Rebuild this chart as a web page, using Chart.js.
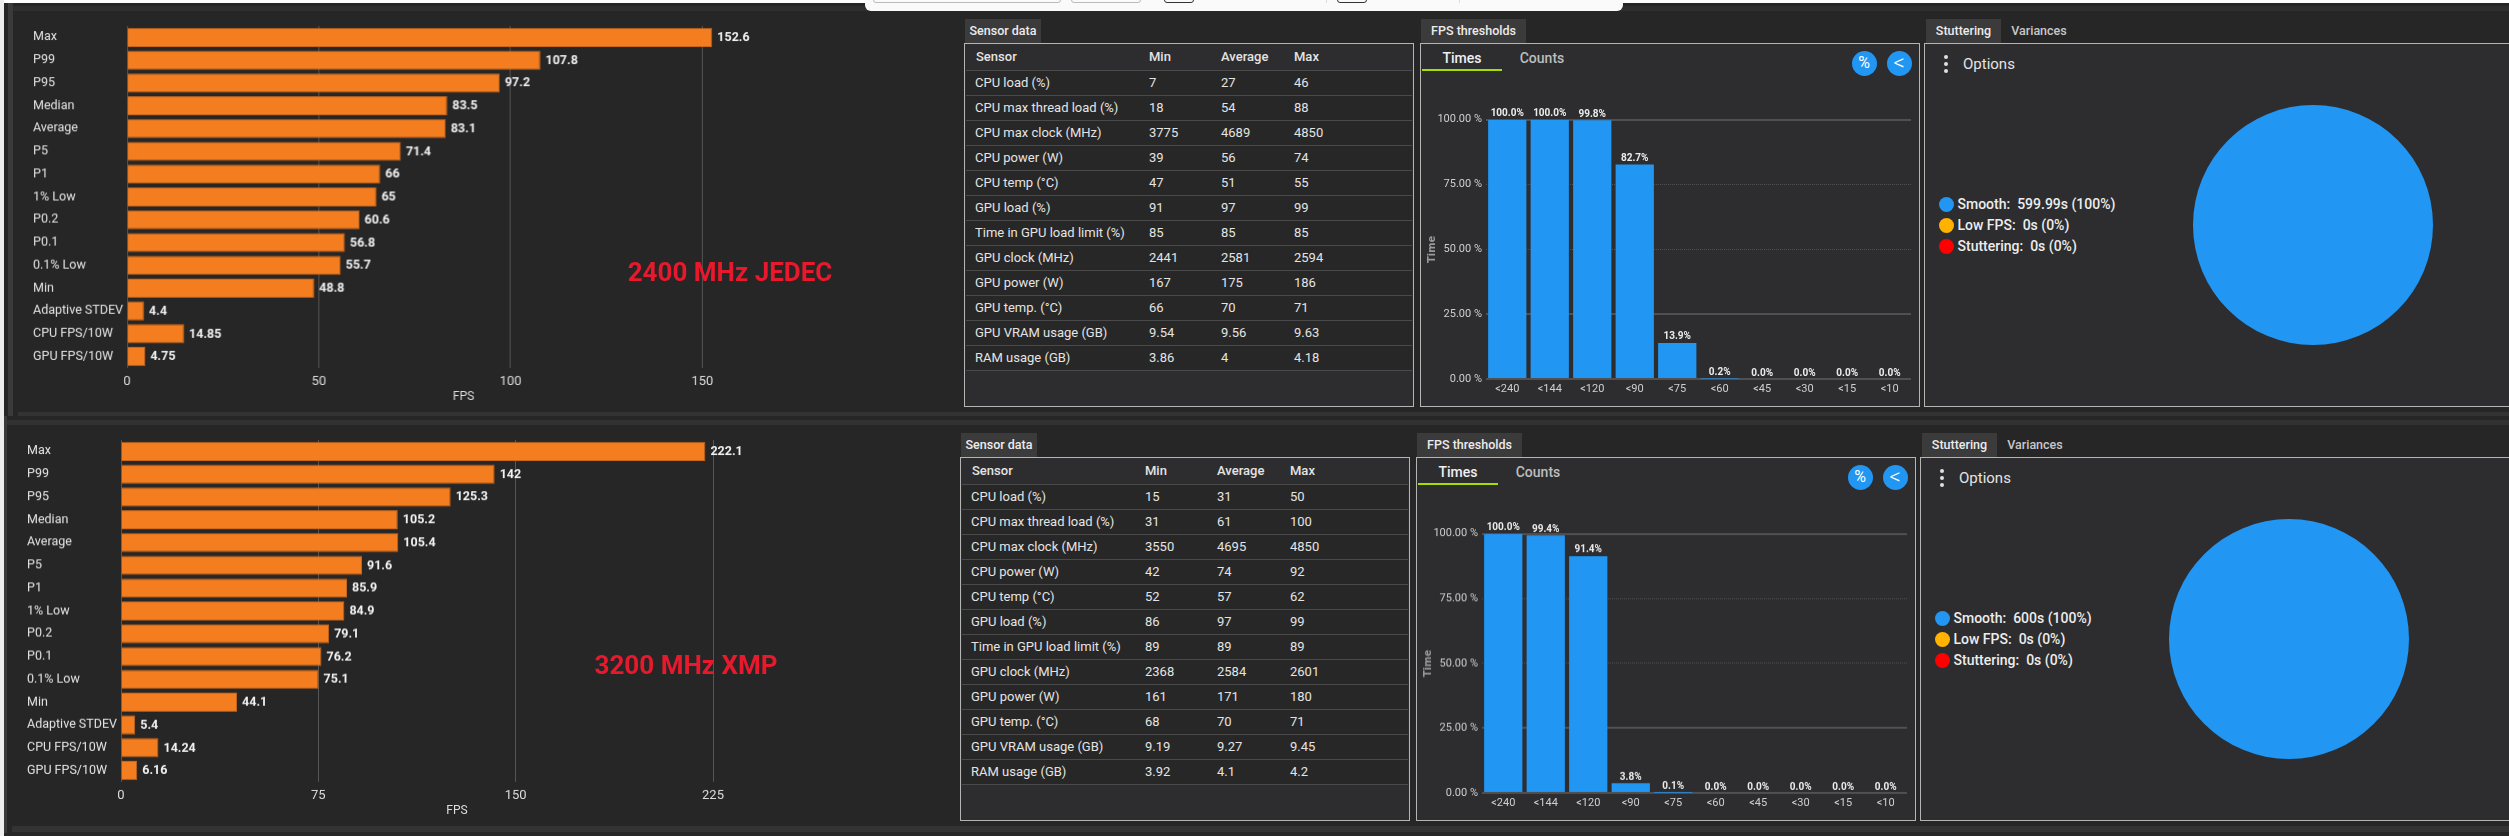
<!DOCTYPE html>
<html>
<head>
<meta charset="utf-8">
<script src="https://cdn.jsdelivr.net/npm/chart.js@4"></script>
<style>
html, body { margin: 0; padding: 0; background: #262626; }
#page { position: relative; width: 2509px; height: 836px; overflow: hidden; background: #262626; font-family: Roboto, sans-serif; color: #e4e4e4; }
.abs { position: absolute; box-sizing: border-box; white-space: nowrap; }
canvas { position: absolute; display: block; }
.tab { font-size: 12.5px; font-weight: 500; text-align: center; line-height: 24px; }
.panel { border: 1px solid #b4b4b4; background: #2d2d2f; }
td, th { padding: 0; font-weight: 400; text-align: left; border-bottom: 1px solid #4a4a4a; }
th { font-weight: 500; }
table { border-collapse: collapse; table-layout: fixed; position: absolute; font-size: 13px; color: #e4e4e4; }
</style>
</head>
<body>
<div id="page"></div>
<script>
var fpsLabels = ['Max', 'P99', 'P95', 'Median', 'Average', 'P5', 'P1', '1% Low', 'P0.2', 'P0.1', '0.1% Low', 'Min', 'Adaptive STDEV', 'CPU FPS/10W', 'GPU FPS/10W'];
var fpsJedec = [152.6, 107.8, 97.2, 83.5, 83.1, 71.4, 66, 65, 60.6, 56.8, 55.7, 48.8, 4.4, 14.85, 4.75];
var fpsXmp = [222.1, 142, 125.3, 105.2, 105.4, 91.6, 85.9, 84.9, 79.1, 76.2, 75.1, 44.1, 5.4, 14.24, 6.16];

var sensorLabels = ['CPU load (%)', 'CPU max thread load (%)', 'CPU max clock (MHz)', 'CPU power (W)', 'CPU temp (°C)', 'GPU load (%)', 'Time in GPU load limit (%)', 'GPU clock (MHz)', 'GPU power (W)', 'GPU temp. (°C)', 'GPU VRAM usage (GB)', 'RAM usage (GB)'];
var sensorMinJedec = ['7', '18', '3775', '39', '47', '91', '85', '2441', '167', '66', '9.54', '3.86'];
var sensorAvgJedec = ['27', '54', '4689', '56', '51', '97', '85', '2581', '175', '70', '9.56', '4'];
var sensorMaxJedec = ['46', '88', '4850', '74', '55', '99', '85', '2594', '186', '71', '9.63', '4.18'];
var sensorMinXmp = ['15', '31', '3550', '42', '52', '86', '89', '2368', '161', '68', '9.19', '3.92'];
var sensorAvgXmp = ['31', '61', '4695', '74', '57', '97', '89', '2584', '171', '70', '9.27', '4.1'];
var sensorMaxXmp = ['50', '100', '4850', '92', '62', '99', '89', '2601', '180', '71', '9.45', '4.2'];

var thresholdLabels = ['<240', '<144', '<120', '<90', '<75', '<60', '<45', '<30', '<15', '<10'];
var timesJedec = [100, 100, 99.8, 82.7, 13.9, 0.2, 0, 0, 0, 0];
var timesXmp = [100, 99.4, 91.4, 3.8, 0.1, 0, 0, 0, 0, 0];

var stutterLabels = ['Smooth', 'Low FPS', 'Stuttering'];
var stutterColors = ['#2196f3', '#ffb300', '#ff0000'];
var stutterJedec = [599.99, 0, 0];
var stutterXmp = [600, 0, 0];
var stutterPctJedec = [100, 0, 0];
var stutterPctXmp = [100, 0, 0];

var page = document.getElementById('page');

function box(x, y, w, h, css, text) {
    var d = document.createElement('div');
    d.className = 'abs';
    d.style.cssText = 'left:' + x + 'px;top:' + y + 'px;width:' + w + 'px;height:' + h + 'px;' + (css || '');
    if (text) d.textContent = text;
    page.appendChild(d);
    return d;
}

function addCanvas(x, y, w, h) {
    var c = document.createElement('canvas');
    c.width = w;
    c.height = h;
    c.style.left = x + 'px';
    c.style.top = y + 'px';
    c.style.width = w + 'px';
    c.style.height = h + 'px';
    page.appendChild(c);
    return c;
}

// axis labels must not push the plot area around
function noPadding(s) {
    s.paddingTop = 0;
    s.paddingBottom = 0;
    s.paddingLeft = 0;
    s.paddingRight = 0;
}

// value next to the end of each orange bar
var barEndLabels = {
    id: 'barEndLabels',
    afterDatasetsDraw: function(chart) {
        var ctx = chart.ctx;
        var values = chart.data.datasets[0].data;
        ctx.save();
        ctx.font = 'bold 12.5px Roboto';
        ctx.fillStyle = '#f2f2f2';
        ctx.textBaseline = 'middle';
        chart.getDatasetMeta(0).data.forEach(function(bar, i) {
            ctx.fillText(String(values[i]), bar.x + 5, bar.y + 0.5);
        });
        ctx.restore();
    }
};

// percentage above the blue bars
var barTopLabels = {
    id: 'barTopLabels',
    afterDatasetsDraw: function(chart) {
        var ctx = chart.ctx;
        var values = chart.data.datasets[0].data;
        ctx.save();
        ctx.font = 'bold 10px Roboto';
        ctx.fillStyle = '#ececec';
        ctx.textAlign = 'center';
        ctx.textBaseline = 'bottom';
        chart.getDatasetMeta(0).data.forEach(function(bar, i) {
            ctx.fillText(values[i].toFixed(1) + '%', bar.x, bar.y - 1);
        });
        ctx.restore();
    }
};

function fpsChart(x, y, plotLeft, plotRight, plotH, values, axisMax, step) {
    var footH = 36;
    new Chart(addCanvas(x, y, plotRight - x, plotH + footH), {
        type: 'bar',
        data: {
            labels: fpsLabels,
            datasets: [{
                data: values,
                backgroundColor: '#f47d20',
                borderColor: '#c4661c',
                borderWidth: 1,
                barPercentage: 0.84,
                categoryPercentage: 1
            }]
        },
        options: {
            indexAxis: 'y',
            responsive: false,
            animation: false,
            layout: { padding: 0 },
            plugins: { legend: { display: false }, tooltip: { enabled: false } },
            scales: {
                x: {
                    min: 0,
                    max: axisMax,
                    afterBuildTicks: function(s) {
                        s.ticks = s.ticks.filter(function(t) { return t.value % step === 0; });
                    },
                    afterFit: function(s) { s.height = footH; noPadding(s); },
                    ticks: { stepSize: step, color: '#dcdcdc', padding: 6, font: { family: 'Roboto', size: 13 } },
                    grid: { color: '#555555', drawTicks: false },
                    border: { display: false },
                    title: { display: true, text: 'FPS', color: '#dcdcdc', padding: 0, font: { family: 'Roboto', size: 12 } }
                },
                y: {
                    afterFit: function(s) { s.width = plotLeft - x; noPadding(s); },
                    ticks: { crossAlign: 'far', autoSkip: false, color: '#e4e4e4', padding: 0, font: { family: 'Roboto', size: 12.5 } },
                    grid: { display: false },
                    border: { display: false }
                }
            }
        },
        plugins: [barEndLabels]
    });
}

function thresholdChart(x, y, plotLeft, plotRight, top, bottom, values) {
    var padTop = top - y;
    var footH = 20;
    new Chart(addCanvas(x, y, plotRight - x, bottom - y + footH), {
        type: 'bar',
        data: {
            labels: thresholdLabels,
            datasets: [{
                data: values,
                backgroundColor: '#2196f3',
                barPercentage: 0.9,
                categoryPercentage: 1
            }]
        },
        options: {
            responsive: false,
            animation: false,
            layout: { padding: { top: padTop } },
            plugins: { legend: { display: false }, tooltip: { enabled: false } },
            scales: {
                x: {
                    afterFit: function(s) { s.height = footH; noPadding(s); },
                    ticks: { autoSkip: false, maxRotation: 0, color: '#cfcfcf', padding: 4, font: { family: 'Roboto', size: 11 } },
                    grid: { display: false, drawTicks: false },
                    border: { display: false }
                },
                y: {
                    min: 0,
                    max: 100,
                    afterFit: function(s) { s.width = plotLeft - x; noPadding(s); },
                    ticks: {
                        stepSize: 25,
                        color: '#cfcfcf',
                        padding: 4,
                        font: { family: 'Roboto', size: 11 },
                        callback: function(v) { return v.toFixed(2) + ' %'; }
                    },
                    grid: {
                        drawTicks: false,
                        color: '#505050',
                        lineWidth: function(c) { return (c.tick.value === 75 || c.tick.value === 50) ? 1 : 2; }
                    },
                    border: {
                        display: false,
                        dash: function(c) { return (c.tick.value === 75 || c.tick.value === 50) ? [1, 1] : []; }
                    },
                    title: { display: true, text: 'Time', color: '#999999', padding: 0, font: { family: 'DejaVu Sans', size: 10, weight: 'bold' } }
                }
            }
        },
        plugins: [barTopLabels]
    });
}

function stutterChart(cx, cy, values) {
    new Chart(addCanvas(cx - 120, cy - 120, 240, 240), {
        type: 'pie',
        data: {
            labels: stutterLabels,
            datasets: [{ data: values, backgroundColor: stutterColors, borderWidth: 0 }]
        },
        options: {
            responsive: false,
            animation: false,
            layout: { padding: 0 },
            plugins: { legend: { display: false }, tooltip: { enabled: false } }
        }
    });
}

function sensorTable(x, y, w, h, mins, avgs, maxs) {
    box(x, y, w, h, '', '').className = 'abs panel';
    box(x + 2, y + 27, w - 4, 300, 'background:#272727;');
    var cols = [183, 72, 73, 118];
    var html = '<colgroup>' + cols.map(function(c) { return '<col style="width:' + c + 'px">'; }).join('') + '</colgroup>';
    html += '<tr style="height:27px"><th style="padding-left:10px">Sensor</th><th>Min</th><th>Average</th><th>Max</th></tr>';
    sensorLabels.forEach(function(name, i) {
        html += '<tr style="height:25px"><td style="padding-left:9px">' + name + '</td><td>' + mins[i] + '</td><td>' + avgs[i] + '</td><td>' + maxs[i] + '</td></tr>';
    });
    var t = document.createElement('table');
    t.style.left = (x + 2) + 'px';
    t.style.top = y + 'px';
    t.style.width = (w - 4) + 'px';
    t.innerHTML = html;
    page.appendChild(t);
}

function fpsTabs(x, y, boxW) {
    box(x + 2, y + 26, 80, 2, 'background:#a6dd00;');
    box(x + 2, y + 4, 80, 22, 'text-align:center;font-size:14px;font-weight:500;color:#f0f0f0;line-height:22px;', 'Times');
    box(x + 82, y + 4, 80, 22, 'text-align:center;font-size:14px;font-weight:500;color:#bdbdbd;line-height:22px;', 'Counts');
    var round = 'border-radius:50%;background:#2196f3;color:#fff;text-align:center;line-height:24px;';
    box(x + boxW - 68.5, y + 8, 25, 25, round + 'font-size:16px;', '%');
    box(x + boxW - 33.5, y + 8, 25, 25, round + 'font-size:22px;font-weight:300;', '<');
}

function stutterPanel(x, y, pieX, pieY, values, pcts) {
    box(x, y, 2509 - x + 5, 364, '').className = 'abs panel';
    var dots = [7, 14, 21];
    dots.forEach(function(d) {
        box(x + 20, y + d + 5, 4, 4, 'border-radius:50%;background:#e0e0e0;');
    });
    box(x + 39, y + 9, 80, 24, 'font-size:15px;line-height:24px;color:#e4e4e4;', 'Options');
    stutterLabels.forEach(function(name, i) {
        var ly = y + 161 + i * 21.2;
        box(x + 14.5, ly - 7.5, 15, 15, 'border-radius:50%;background:' + stutterColors[i] + ';');
        box(x + 33.5, ly - 10, 200, 20, 'font-size:14px;font-weight:500;line-height:20px;color:#ececec;white-space:pre;', name + ':  ' + values[i] + 's (' + pcts[i] + '%)');
    });
    stutterChart(pieX, pieY, values);
}

function tab(x, y, w, text, active) {
    box(x, y, w, 24, 'background:' + (active ? '#3b3b3b' : 'transparent') + ';color:' + (active ? '#ececec' : '#c8c8c8') + ';', text).classList.add('tab');
}

// chrome behind the two rows
box(0, 0, 2509, 3, 'background:#ffffff;');
box(0, 0, 4, 836, 'background:#eeeeee;');
box(8, 3, 5, 413, 'background:#3a3a3a;');
box(13, 6, 2496, 5, 'background:#2f2f2f;');
box(18, 412, 2491, 4, 'background:#333333;');
box(4, 416, 3, 417, 'background:#3a3a3a;');
box(7, 420, 2502, 5, 'background:#313131;');
box(12, 826, 2497, 6, 'background:#333333;');

// window sitting over the top edge
box(865, 0, 758, 11, 'background:#fafafa;border-radius:0 0 6px 6px;');
box(873, -3, 188, 5.5, 'background:#fafafa;border:1px solid #bbbbbb;border-radius:3px;');
box(1071, -3, 70, 5.5, 'background:#fafafa;border:1px solid #bbbbbb;border-radius:3px;');
box(1164, -3, 30, 5.5, 'background:#fafafa;border:1px solid #333333;border-radius:3px;');
box(1337, -3, 30, 5.5, 'background:#fafafa;border:1px solid #333333;border-radius:3px;');
box(1326, 0, 1, 3, 'background:#dddddd;');
box(1459, 0, 1, 3, 'background:#dddddd;');

// 2400 MHz row
fpsChart(33, 26, 127, 799.7, 341.5, fpsJedec, 175.5, 50);
box(620, 254, 220, 36, 'font:bold 26px Roboto;color:#e8192c;text-align:center;line-height:36px;', '2400 MHz JEDEC');
tab(965, 19, 76, 'Sensor data', true);
sensorTable(964, 43, 450, 364, sensorMinJedec, sensorAvgJedec, sensorMaxJedec);
tab(1421, 19, 105, 'FPS thresholds', true);
box(1420, 43, 500, 364, '').className = 'abs panel';
fpsTabs(1420, 43, 500);
thresholdChart(1426, 100, 1486, 1911, 119.7, 379, timesJedec);
tab(1926, 19, 75, 'Stuttering', true);
tab(2001, 19, 76, 'Variances', false);
stutterPanel(1924, 43, 2313, 225, stutterJedec, stutterPctJedec);

// 3200 MHz row
fpsChart(27, 440, 121, 793, 341.5, fpsXmp, 255.4, 75);
box(576, 647, 220, 36, 'font:bold 26px Roboto;color:#e8192c;text-align:center;line-height:36px;', '3200 MHz XMP');
tab(961, 433, 76, 'Sensor data', true);
sensorTable(960, 457, 450, 364, sensorMinXmp, sensorAvgXmp, sensorMaxXmp);
tab(1417, 433, 105, 'FPS thresholds', true);
box(1416, 457, 500, 364, '').className = 'abs panel';
fpsTabs(1416, 457, 500);
thresholdChart(1422, 514, 1482, 1907, 533.7, 792.7, timesXmp);
tab(1922, 433, 75, 'Stuttering', true);
tab(1997, 433, 76, 'Variances', false);
stutterPanel(1920, 457, 2289, 639, stutterXmp, stutterPctXmp);
</script>
</body>
</html>
